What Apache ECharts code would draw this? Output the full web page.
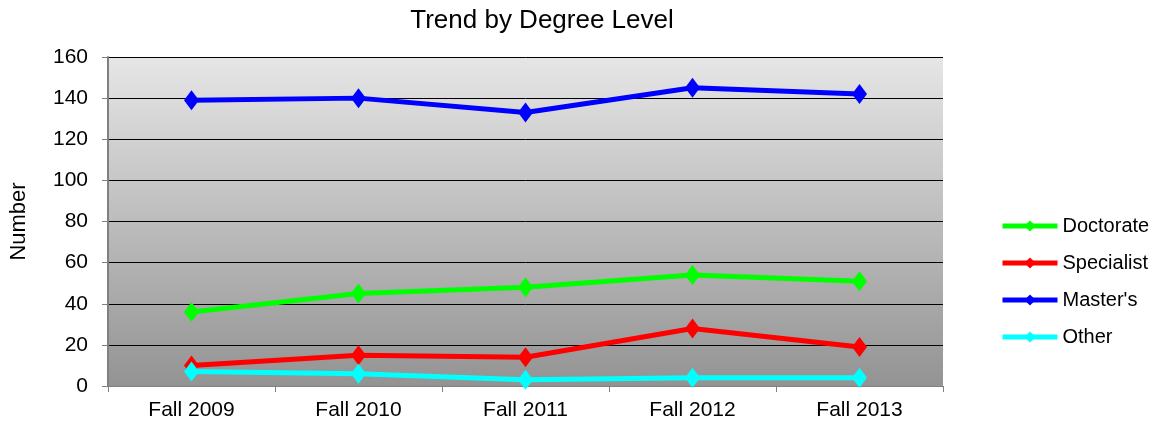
<!DOCTYPE html>
<html>
<head>
<meta charset="utf-8">
<script src="https://cdn.jsdelivr.net/npm/echarts@6/dist/echarts.min.js"></script>
<style>
  html, body { margin: 0; padding: 0; background: #fff; }
  #chart { width: 1163px; height: 428px; }
</style>
</head>
<body>
<div id="chart"></div>
<script>
// 数据
const terms = ['Fall 2009', 'Fall 2010', 'Fall 2011', 'Fall 2012', 'Fall 2013'];
const doctorate = [36, 45, 48, 54, 51];
const specialist = [10, 15, 14, 28, 19];
const masters = [139, 140, 133, 145, 142];
const other = [7, 6, 3, 4, 4];

const font = 'Liberation Sans, Arial, sans-serif';

function mkLine (name, data, color) {
  return {
    name: name,
    type: 'line',
    data: data,
    symbol: 'diamond',
    symbolSize: [15, 20],
    lineStyle: { width: 5, color: color },
    itemStyle: { color: color },
    emphasis: { disabled: true }
  };
}

let myChart = echarts.init(document.getElementById('chart'));
myChart.setOption({
  animation: false,
  title: {
    text: 'Trend by Degree Level',
    left: 537,
    textAlign: 'center',
    top: 3,
    textStyle: { fontFamily: font, fontSize: 26, fontWeight: 'normal', color: '#000' }
  },
  legend: {
    orient: 'vertical',
    left: 995,
    top: 211,
    itemWidth: 55,
    itemHeight: 14,
    itemGap: 17,
    lineStyle: { width: 5 },
    textStyle: { fontFamily: font, fontSize: 20, color: '#000' },
    data: ['Doctorate', 'Specialist', "Master's", 'Other']
  },
  grid: {
    left: 108, right: 220, top: 57, bottom: 42,
    outerBoundsMode: 'none',
    show: true,
    borderWidth: 0,
    backgroundColor: new echarts.graphic.LinearGradient(0, 0, 0, 1, [
      { offset: 0, color: '#e6e6e6' },
      { offset: 1, color: '#939393' }
    ])
  },
  xAxis: {
    type: 'category',
    data: terms,
    boundaryGap: true,
    axisLine: { lineStyle: { color: '#808080', width: 1 } },
    axisTick: { show: true, length: 6, lineStyle: { color: '#808080' } },
    axisLabel: { fontFamily: font, fontSize: 21, color: '#000', margin: 14 }
  },
  yAxis: {
    type: 'value',
    min: 0, max: 160, interval: 20,
    name: 'Number',
    nameLocation: 'middle',
    nameGap: 78,
    nameTextStyle: { fontFamily: font, fontSize: 22, color: '#000' },
    axisLine: { show: true, lineStyle: { color: '#808080', width: 2 } },
    axisTick: { show: true, length: 6, lineStyle: { color: '#808080' } },
    axisLabel: { fontFamily: font, fontSize: 21, color: '#000', margin: 20 },
    splitLine: { show: true, lineStyle: { color: '#000', width: 1 } }
  },
  series: [
    mkLine('Doctorate', doctorate, '#00ff00'),
    mkLine('Specialist', specialist, '#ff0000'),
    mkLine("Master's", masters, '#0000ff'),
    mkLine('Other', other, '#00ffff')
  ]
});
</script>
</body>
</html>
